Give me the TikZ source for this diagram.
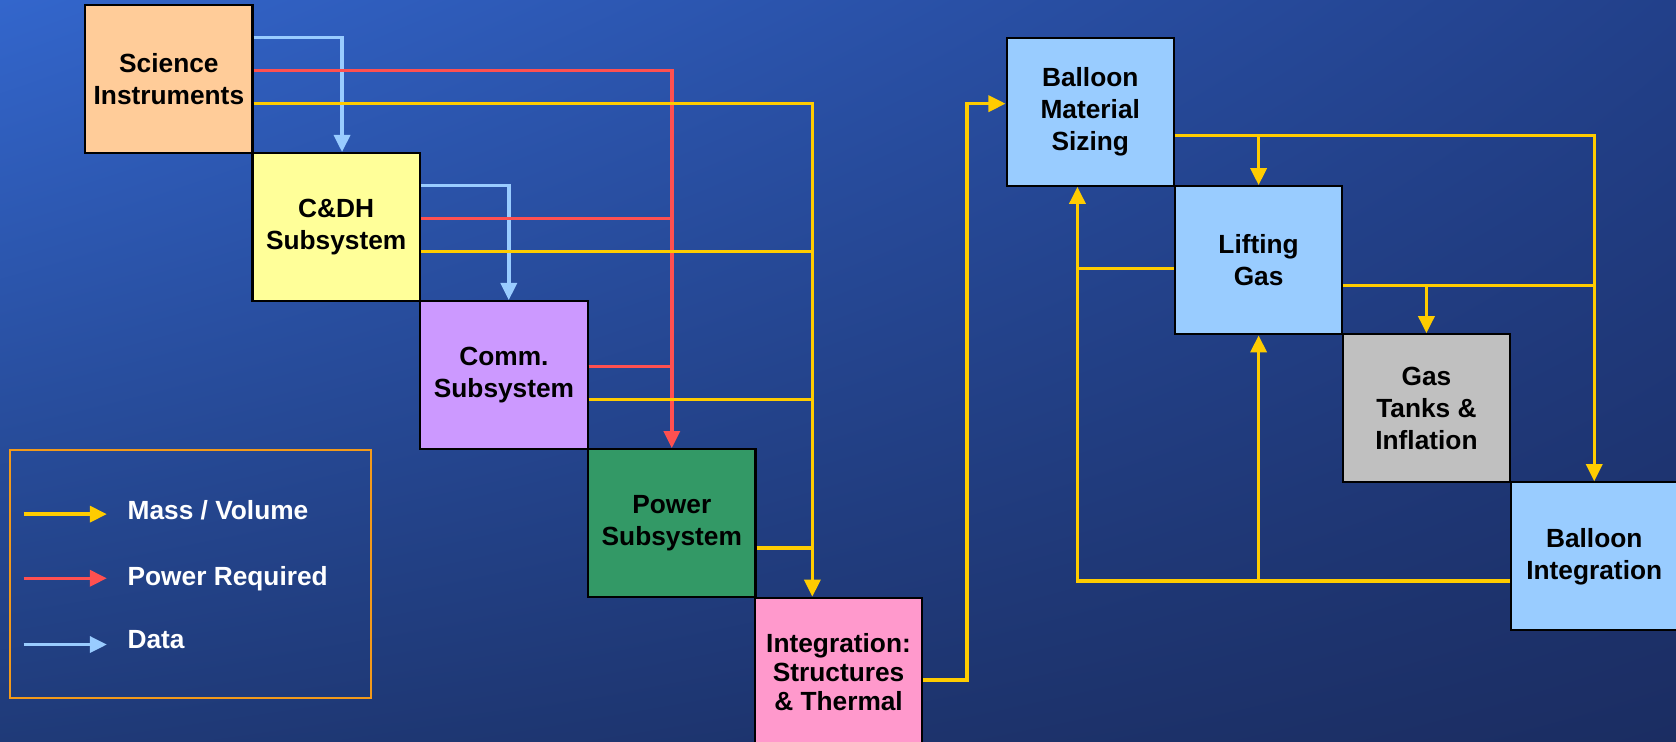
\documentclass[tikz,border=0pt]{standalone}
\usepackage{fontspec}
\setmainfont{Liberation Sans}
\usetikzlibrary{arrows.meta, calc, shadings}

\definecolor{bgul}{HTML}{3366CC}
\definecolor{bgur}{HTML}{22408A}
\definecolor{bgll}{HTML}{1F3A78}
\definecolor{bglr}{HTML}{1B2D62}
\definecolor{massc}{HTML}{FFCC00}
\definecolor{pwrc}{HTML}{FF5050}
\definecolor{datac}{HTML}{99CCFF}
\definecolor{legc}{HTML}{F39A1A}
\definecolor{scic}{HTML}{FFCC99}
\definecolor{cdhc}{HTML}{FFFF99}
\definecolor{commc}{HTML}{CC99FF}
\definecolor{pwrboxc}{HTML}{339966}
\definecolor{intgc}{HTML}{FF99CC}
\definecolor{balc}{HTML}{99CCFF}
\definecolor{gasc}{HTML}{C0C0C0}

\begin{document}
\begin{tikzpicture}[
        x=0.5pt, y=-0.5pt,
        >={Triangle[length=8pt,width=7.5pt]},
        box/.style={draw=black, line width=1pt, minimum width=78.25pt,
            minimum height=69.25pt, inner sep=0pt, align=center,
            font=\bfseries\fontsize{12.3}{15}\selectfont},
        legtext/.style={anchor=west, text=white, inner sep=0pt,
            font=\bfseries\fontsize{12.3}{15}\selectfont},
        massline/.style={->, line width=1.6pt, draw=massc},
        pwrline/.style={->, line width=1.6pt, draw=pwrc},
        dataline/.style={->, line width=1.6pt, draw=datac}
    ]

    % --- Background ---
    \useasboundingbox (0,0) rectangle (1568,694);
    \shade[upper left=bgul, upper right=bgur, lower left=bgll, lower right=bglr]
        (0,0) rectangle (1568,694);

    % --- Spacecraft subsystems ---
    \node[box, fill=scic]    (sci)  at (158,74)    {Science\\Instruments};
    \node[box, fill=cdhc]    (cdh)  at (314.5,212.5) {C\&DH\\Subsystem};
    \node[box, fill=commc]   (comm) at (471.5,351) {Comm.\\Subsystem};
    \node[box, fill=pwrboxc] (pwr)  at (628.5,489.5) {Power\\Subsystem};
    \node[box, fill=intgc, font=\bfseries\fontsize{12.3}{13.5}\selectfont]
        (intg) at (784.5,628.5) {Integration:\\Structures\\\& Thermal};

    % --- Balloon elements ---
    \node[box, fill=balc] (bms)  at (1020,104.5)  {Balloon\\Material\\Sizing};
    \node[box, fill=balc] (lift) at (1177.5,243.5) {Lifting\\Gas};
    \node[box, fill=gasc] (gast) at (1334.5,382)  {Gas\\Tanks \&\\Inflation};
    \node[box, fill=balc] (bint) at (1491.5,520.5) {Balloon\\Integration};

    % --- Data ---
    \draw[dataline] ([yshift=19.5pt]sci.east) -| ([xshift=2.75pt]cdh.north);
    \draw[dataline] ([yshift=19.5pt]cdh.east) -| ([xshift=2.25pt]comm.north);

    % --- Power required ---
    \draw[pwrline] ([yshift=4pt]sci.east) -| (pwr.north);
    \draw[pwrline, -] ([yshift=4pt]cdh.east) coordinate (r2) -- (r2 -| pwr.north);
    \draw[pwrline, -] ([yshift=4pt]comm.east) coordinate (r3) -- (r3 -| pwr.north);

    % --- Mass / volume, spacecraft side ---
    \coordinate (ybus) at ([xshift=-12.25pt]intg.north);
    \draw[massline] ([yshift=-11.5pt]sci.east) -| (ybus);
    \draw[massline, -] ([yshift=-11.5pt]cdh.east) coordinate (y2) -- (y2 -| ybus);
    \draw[massline, -] ([yshift=-11.5pt]comm.east) coordinate (y3) -- (y3 -| ybus);
    \draw[massline, -] ([yshift=-11.5pt]pwr.east) coordinate (y4) -- (y4 -| ybus);
    \draw[massline] ([yshift=-3.75pt]intg.east) -- ++(20.5pt,0) |- ([yshift=3.75pt]bms.west);

    % --- Mass / volume, balloon side ---
    \coordinate (bmsin) at ([xshift=-6pt]bms.south);
    \draw[massline] ([yshift=-11.25pt]bms.east) coordinate (b1) -| (bint.north);
    \draw[massline] (b1 -| lift.north) -- (lift.north);
    \draw[massline, -] ([yshift=-11.75pt]lift.east) coordinate (l1) -- (l1 -| bint.north);
    \draw[massline] (l1 -| gast.north) -- (gast.north);
    \draw[massline] ([yshift=-11.5pt]bint.west) coordinate (i1) -| (bmsin);
    \draw[massline] (i1 -| lift.south) -- (lift.south);
    \draw[massline, -] ([yshift=-3.75pt]lift.west) coordinate (l2) -- (l2 -| bmsin);

    % --- Legend ---
    \draw[draw=legc, line width=1pt] (9,421) rectangle (347,653);
    \node[legtext] (lgmass) at (119,477) {Mass / Volume};
    \node[legtext] (lgpwr)  at (119,541) {Power Required};
    \node[legtext] (lgdata) at (119,598) {Data};
    \coordinate (lgm) at (22,481);
    \coordinate (lgp) at (22,541);
    \coordinate (lgd) at (22,603);
    \draw[massline] (lgm) -- ++(78,0);
    \draw[pwrline]  (lgp) -- ++(78,0);
    \draw[dataline] (lgd) -- ++(78,0);

\end{tikzpicture}
\end{document}
